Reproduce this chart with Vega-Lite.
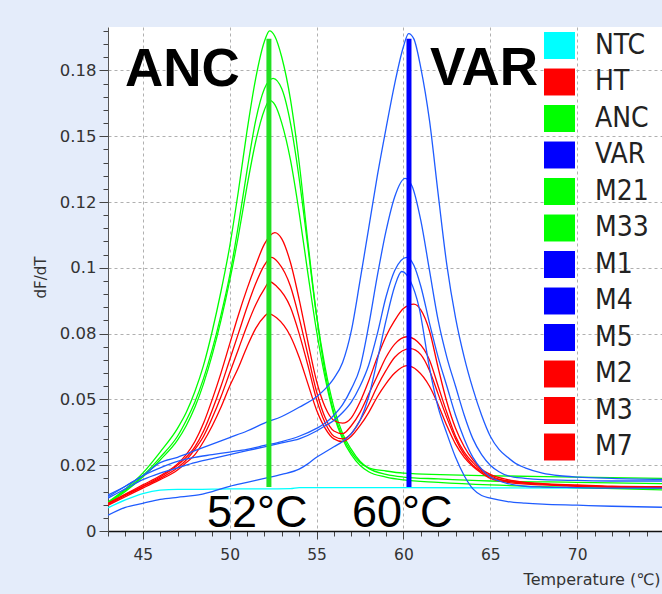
{
"$schema":"https://vega.github.io/schema/vega-lite/v6.json",
"width":554,"height":504,
"autosize":{"type":"none"},
"padding":{"left":108,"top":27,"right":0,"bottom":63},
"background":"#e4ecfa",
"config":{"view":{"fill":"white","stroke":null},
"legend":{"padding":0}},
"encoding":{
"x":{"field":"t","type":"quantitative","title":"Temperature (℃)",
 "scale":{"domain":[43,74.88],"nice":false,"zero":false},
 "axis":{"values":[43,44,45,46,47,48,49,50,51,52,53,54,55,56,57,58,59,60,61,62,63,64,65,66,67,68,69,70,71,72,73,74],
  "labelExpr":"datum.value % 5 == 0 ? datum.label : ''",
  "tickSize":{"condition":{"test":"datum.value % 5 == 0","value":8},"value":5},
  "gridOpacity":{"condition":{"test":"datum.value % 5 == 0","value":1},"value":0},
  "grid":true,"gridColor":"#b0b0b0","gridDash":[3,3],"gridWidth":1,
  "tickColor":"#444","domainColor":"#111","domainWidth":1.5,
  "labelFont":"DejaVu Sans","labelFontSize":15.5,"labelColor":"#333","labelPadding":8,
  "titleFont":"DejaVu Sans","titleFontSize":16,"titleFontWeight":"normal","titleColor":"#333",
  "titleX":552,"titleY":53,"titleAlign":"right","titleBaseline":"alphabetic"}},
"y":{"field":"v","type":"quantitative","title":"dF/dT",
 "scale":{"domain":[0,0.1915],"nice":false,"zero":false},
 "axis":{"values":[0,0.005,0.01,0.015,0.02,0.025,0.03,0.035,0.04,0.045,0.05,0.055,0.06,0.065,0.07,0.075,0.08,0.085,0.09,0.095,0.1,0.105,0.11,0.115,0.12,0.125,0.13,0.135,0.14,0.145,0.15,0.155,0.16,0.165,0.17,0.175,0.18,0.185,0.19],
  "labelExpr":"abs(datum.value*40 - round(datum.value*40)) < 0.01 ? ['0','0.02','0.05','0.08','0.1','0.12','0.15','0.18'][round(datum.value*40)] : ''",
  "tickSize":{"condition":{"test":"abs(datum.value*40 - round(datum.value*40)) < 0.01","value":9},"value":5},
  "gridOpacity":{"condition":{"test":"abs(datum.value*40 - round(datum.value*40)) < 0.01 && datum.value > 0","value":1},"value":0},
  "grid":true,"gridColor":"#b0b0b0","gridDash":[3,3],"gridWidth":1,
  "tickColor":"#444","domainColor":"#555","domainWidth":1,
  "labelFont":"DejaVu Sans","labelFontSize":16.5,"labelColor":"#333","labelPadding":3,
  "titleFont":"DejaVu Sans","titleFontSize":15,"titleFontWeight":"normal","titleColor":"#333",
  "titleX":-60,"titleY":250,"titleAlign":"center","titleBaseline":"bottom","titleAngle":-90}}
},
"layer":[
{"data":{"values":[
{"s":"NTC","t":43,"v":0.0088},{"s":"NTC","t":44,"v":0.0118},{"s":"NTC","t":45,"v":0.0142},{"s":"NTC","t":46,"v":0.0155},{"s":"NTC","t":47,"v":0.0158},{"s":"NTC","t":48,"v":0.0158},{"s":"NTC","t":50,"v":0.016},{"s":"NTC","t":52,"v":0.016},{"s":"NTC","t":53.5,"v":0.0161},{"s":"NTC","t":54,"v":0.0165},{"s":"NTC","t":56,"v":0.0165},{"s":"NTC","t":60,"v":0.0165},{"s":"NTC","t":65,"v":0.0164},{"s":"NTC","t":70,"v":0.0163},{"s":"NTC","t":75,"v":0.0162},

{"s":"ANC","t":43,"v":0.011},{"s":"ANC","t":44,"v":0.016},{"s":"ANC","t":45,"v":0.022},{"s":"ANC","t":46,"v":0.03},{"s":"ANC","t":47,"v":0.039},{"s":"ANC","t":47.5,"v":0.045},{"s":"ANC","t":48,"v":0.053},{"s":"ANC","t":48.5,"v":0.063},{"s":"ANC","t":49,"v":0.076},{"s":"ANC","t":49.5,"v":0.091},{"s":"ANC","t":50,"v":0.108},{"s":"ANC","t":50.5,"v":0.129},{"s":"ANC","t":51,"v":0.152},{"s":"ANC","t":51.5,"v":0.172},{"s":"ANC","t":52,"v":0.186},{"s":"ANC","t":52.3,"v":0.19},{"s":"ANC","t":52.6,"v":0.188},{"s":"ANC","t":53,"v":0.18},{"s":"ANC","t":53.5,"v":0.164},{"s":"ANC","t":54,"v":0.14},{"s":"ANC","t":54.5,"v":0.11},{"s":"ANC","t":55,"v":0.082},{"s":"ANC","t":55.5,"v":0.06},{"s":"ANC","t":56,"v":0.045},{"s":"ANC","t":56.5,"v":0.036},{"s":"ANC","t":57,"v":0.03},{"s":"ANC","t":57.5,"v":0.026},{"s":"ANC","t":58,"v":0.024},{"s":"ANC","t":59,"v":0.0228},{"s":"ANC","t":60,"v":0.022},{"s":"ANC","t":65,"v":0.021},{"s":"ANC","t":70,"v":0.0205},{"s":"ANC","t":75,"v":0.02},

{"s":"M21","t":43,"v":0.0108},{"s":"M21","t":44,"v":0.0155},{"s":"M21","t":45,"v":0.021},{"s":"M21","t":46,"v":0.028},{"s":"M21","t":47,"v":0.036},{"s":"M21","t":47.5,"v":0.042},{"s":"M21","t":48,"v":0.049},{"s":"M21","t":48.5,"v":0.058},{"s":"M21","t":49,"v":0.069},{"s":"M21","t":49.5,"v":0.082},{"s":"M21","t":50,"v":0.097},{"s":"M21","t":50.5,"v":0.116},{"s":"M21","t":51,"v":0.137},{"s":"M21","t":51.5,"v":0.156},{"s":"M21","t":52,"v":0.168},{"s":"M21","t":52.5,"v":0.172},{"s":"M21","t":53,"v":0.168},{"s":"M21","t":53.5,"v":0.155},{"s":"M21","t":54,"v":0.134},{"s":"M21","t":54.5,"v":0.108},{"s":"M21","t":55,"v":0.082},{"s":"M21","t":55.5,"v":0.062},{"s":"M21","t":56,"v":0.047},{"s":"M21","t":56.5,"v":0.037},{"s":"M21","t":57,"v":0.031},{"s":"M21","t":57.5,"v":0.0265},{"s":"M21","t":58,"v":0.0238},{"s":"M21","t":59,"v":0.0215},{"s":"M21","t":60,"v":0.0205},{"s":"M21","t":62,"v":0.0198},{"s":"M21","t":65,"v":0.019},{"s":"M21","t":70,"v":0.0185},{"s":"M21","t":75,"v":0.018},

{"s":"M33","t":43,"v":0.0105},{"s":"M33","t":44,"v":0.015},{"s":"M33","t":45,"v":0.0205},{"s":"M33","t":46,"v":0.027},{"s":"M33","t":47,"v":0.0345},{"s":"M33","t":47.5,"v":0.04},{"s":"M33","t":48,"v":0.047},{"s":"M33","t":48.5,"v":0.056},{"s":"M33","t":49,"v":0.067},{"s":"M33","t":49.5,"v":0.08},{"s":"M33","t":50,"v":0.095},{"s":"M33","t":50.5,"v":0.112},{"s":"M33","t":51,"v":0.131},{"s":"M33","t":51.5,"v":0.148},{"s":"M33","t":52,"v":0.16},{"s":"M33","t":52.3,"v":0.1636},{"s":"M33","t":52.6,"v":0.162},{"s":"M33","t":53,"v":0.155},{"s":"M33","t":53.5,"v":0.141},{"s":"M33","t":54,"v":0.121},{"s":"M33","t":54.5,"v":0.098},{"s":"M33","t":55,"v":0.076},{"s":"M33","t":55.5,"v":0.058},{"s":"M33","t":56,"v":0.044},{"s":"M33","t":56.5,"v":0.035},{"s":"M33","t":57,"v":0.029},{"s":"M33","t":57.5,"v":0.025},{"s":"M33","t":58,"v":0.0225},{"s":"M33","t":59,"v":0.0205},{"s":"M33","t":60,"v":0.0194},{"s":"M33","t":62,"v":0.0185},{"s":"M33","t":65,"v":0.0175},{"s":"M33","t":70,"v":0.0165},{"s":"M33","t":75,"v":0.0156},

{"s":"HT","t":43,"v":0.0105},{"s":"HT","t":44,"v":0.014},{"s":"HT","t":45,"v":0.0175},{"s":"HT","t":46,"v":0.021},{"s":"HT","t":47,"v":0.0255},{"s":"HT","t":47.5,"v":0.029},{"s":"HT","t":48,"v":0.034},{"s":"HT","t":48.5,"v":0.041},{"s":"HT","t":49,"v":0.05},{"s":"HT","t":49.5,"v":0.06},{"s":"HT","t":50,"v":0.071},{"s":"HT","t":50.5,"v":0.082},{"s":"HT","t":51,"v":0.092},{"s":"HT","t":51.5,"v":0.101},{"s":"HT","t":52,"v":0.109},{"s":"HT","t":52.6,"v":0.1134},{"s":"HT","t":53,"v":0.111},{"s":"HT","t":53.5,"v":0.102},{"s":"HT","t":54,"v":0.088},{"s":"HT","t":54.5,"v":0.072},{"s":"HT","t":55,"v":0.057},{"s":"HT","t":55.5,"v":0.047},{"s":"HT","t":56,"v":0.042},{"s":"HT","t":56.5,"v":0.041},{"s":"HT","t":57,"v":0.043},{"s":"HT","t":57.5,"v":0.049},{"s":"HT","t":58,"v":0.057},{"s":"HT","t":58.5,"v":0.066},{"s":"HT","t":59,"v":0.074},{"s":"HT","t":59.5,"v":0.08},{"s":"HT","t":60,"v":0.0845},{"s":"HT","t":60.6,"v":0.0862},{"s":"HT","t":61,"v":0.084},{"s":"HT","t":61.5,"v":0.076},{"s":"HT","t":62,"v":0.062},{"s":"HT","t":62.5,"v":0.049},{"s":"HT","t":63,"v":0.039},{"s":"HT","t":63.5,"v":0.032},{"s":"HT","t":64,"v":0.027},{"s":"HT","t":64.5,"v":0.0235},{"s":"HT","t":65,"v":0.0215},{"s":"HT","t":66,"v":0.0195},{"s":"HT","t":67,"v":0.0185},{"s":"HT","t":68,"v":0.018},{"s":"HT","t":70,"v":0.0175},{"s":"HT","t":72,"v":0.017},{"s":"HT","t":75,"v":0.0168},

{"s":"M2","t":43,"v":0.0105},{"s":"M2","t":44,"v":0.0138},{"s":"M2","t":45,"v":0.017},{"s":"M2","t":46,"v":0.0205},{"s":"M2","t":47,"v":0.025},{"s":"M2","t":47.5,"v":0.028},{"s":"M2","t":48,"v":0.032},{"s":"M2","t":48.5,"v":0.038},{"s":"M2","t":49,"v":0.046},{"s":"M2","t":49.5,"v":0.055},{"s":"M2","t":50,"v":0.065},{"s":"M2","t":50.5,"v":0.075},{"s":"M2","t":51,"v":0.085},{"s":"M2","t":51.5,"v":0.094},{"s":"M2","t":52,"v":0.101},{"s":"M2","t":52.4,"v":0.104},{"s":"M2","t":52.8,"v":0.102},{"s":"M2","t":53.5,"v":0.093},{"s":"M2","t":54,"v":0.081},{"s":"M2","t":54.5,"v":0.067},{"s":"M2","t":55,"v":0.053},{"s":"M2","t":55.5,"v":0.043},{"s":"M2","t":56,"v":0.038},{"s":"M2","t":56.5,"v":0.037},{"s":"M2","t":57,"v":0.04},{"s":"M2","t":57.5,"v":0.045},{"s":"M2","t":58,"v":0.052},{"s":"M2","t":58.5,"v":0.059},{"s":"M2","t":59,"v":0.066},{"s":"M2","t":59.5,"v":0.071},{"s":"M2","t":60.2,"v":0.0738},{"s":"M2","t":60.8,"v":0.072},{"s":"M2","t":61.5,"v":0.065},{"s":"M2","t":62,"v":0.055},{"s":"M2","t":62.5,"v":0.045},{"s":"M2","t":63,"v":0.036},{"s":"M2","t":63.5,"v":0.03},{"s":"M2","t":64,"v":0.026},{"s":"M2","t":64.5,"v":0.023},{"s":"M2","t":65,"v":0.021},{"s":"M2","t":66,"v":0.019},{"s":"M2","t":68,"v":0.0178},{"s":"M2","t":70,"v":0.0172},{"s":"M2","t":72,"v":0.0168},{"s":"M2","t":75,"v":0.0165},

{"s":"M3","t":43,"v":0.01},{"s":"M3","t":44,"v":0.0135},{"s":"M3","t":45,"v":0.0168},{"s":"M3","t":46,"v":0.02},{"s":"M3","t":47,"v":0.024},{"s":"M3","t":47.5,"v":0.027},{"s":"M3","t":48,"v":0.031},{"s":"M3","t":48.5,"v":0.036},{"s":"M3","t":49,"v":0.043},{"s":"M3","t":49.5,"v":0.051},{"s":"M3","t":50,"v":0.06},{"s":"M3","t":50.5,"v":0.069},{"s":"M3","t":51,"v":0.078},{"s":"M3","t":51.5,"v":0.086},{"s":"M3","t":52,"v":0.092},{"s":"M3","t":52.3,"v":0.0947},{"s":"M3","t":52.7,"v":0.093},{"s":"M3","t":53.5,"v":0.085},{"s":"M3","t":54,"v":0.075},{"s":"M3","t":54.5,"v":0.063},{"s":"M3","t":55,"v":0.05},{"s":"M3","t":55.5,"v":0.041},{"s":"M3","t":56,"v":0.036},{"s":"M3","t":56.5,"v":0.035},{"s":"M3","t":57,"v":0.037},{"s":"M3","t":57.5,"v":0.042},{"s":"M3","t":58,"v":0.048},{"s":"M3","t":58.5,"v":0.055},{"s":"M3","t":59,"v":0.061},{"s":"M3","t":59.5,"v":0.066},{"s":"M3","t":60.4,"v":0.0693},{"s":"M3","t":61,"v":0.067},{"s":"M3","t":61.5,"v":0.061},{"s":"M3","t":62,"v":0.052},{"s":"M3","t":62.5,"v":0.043},{"s":"M3","t":63,"v":0.035},{"s":"M3","t":63.5,"v":0.029},{"s":"M3","t":64,"v":0.025},{"s":"M3","t":64.5,"v":0.0225},{"s":"M3","t":65,"v":0.0205},{"s":"M3","t":66,"v":0.019},{"s":"M3","t":68,"v":0.0178},{"s":"M3","t":70,"v":0.0172},{"s":"M3","t":72,"v":0.0168},{"s":"M3","t":75,"v":0.0165},

{"s":"M7","t":43,"v":0.0098},{"s":"M7","t":44,"v":0.013},{"s":"M7","t":45,"v":0.0163},{"s":"M7","t":46,"v":0.0195},{"s":"M7","t":47,"v":0.0232},{"s":"M7","t":47.5,"v":0.026},{"s":"M7","t":48,"v":0.029},{"s":"M7","t":48.5,"v":0.034},{"s":"M7","t":49,"v":0.04},{"s":"M7","t":49.5,"v":0.047},{"s":"M7","t":50,"v":0.055},{"s":"M7","t":50.5,"v":0.062},{"s":"M7","t":51,"v":0.07},{"s":"M7","t":51.5,"v":0.077},{"s":"M7","t":52,"v":0.0815},{"s":"M7","t":52.2,"v":0.0826},{"s":"M7","t":52.7,"v":0.081},{"s":"M7","t":53.5,"v":0.074},{"s":"M7","t":54,"v":0.066},{"s":"M7","t":54.5,"v":0.056},{"s":"M7","t":55,"v":0.046},{"s":"M7","t":55.5,"v":0.039},{"s":"M7","t":56,"v":0.035},{"s":"M7","t":56.5,"v":0.034},{"s":"M7","t":57,"v":0.036},{"s":"M7","t":57.5,"v":0.04},{"s":"M7","t":58,"v":0.045},{"s":"M7","t":58.5,"v":0.051},{"s":"M7","t":59,"v":0.056},{"s":"M7","t":59.5,"v":0.06},{"s":"M7","t":60.2,"v":0.0628},{"s":"M7","t":60.8,"v":0.061},{"s":"M7","t":61.5,"v":0.055},{"s":"M7","t":62,"v":0.048},{"s":"M7","t":62.5,"v":0.04},{"s":"M7","t":63,"v":0.033},{"s":"M7","t":63.5,"v":0.028},{"s":"M7","t":64,"v":0.0245},{"s":"M7","t":64.5,"v":0.022},{"s":"M7","t":65,"v":0.02},{"s":"M7","t":66,"v":0.0185},{"s":"M7","t":68,"v":0.0175},{"s":"M7","t":70,"v":0.017},{"s":"M7","t":72,"v":0.0167},{"s":"M7","t":75,"v":0.0165},

{"s":"VAR","t":43,"v":0.0137},{"s":"VAR","t":44,"v":0.017},{"s":"VAR","t":45,"v":0.021},{"s":"VAR","t":46,"v":0.026},{"s":"VAR","t":47,"v":0.028},{"s":"VAR","t":48,"v":0.0305},{"s":"VAR","t":49,"v":0.033},{"s":"VAR","t":50,"v":0.0355},{"s":"VAR","t":51,"v":0.038},{"s":"VAR","t":52,"v":0.041},{"s":"VAR","t":53,"v":0.0435},{"s":"VAR","t":54,"v":0.047},{"s":"VAR","t":55,"v":0.051},{"s":"VAR","t":55.5,"v":0.054},{"s":"VAR","t":56,"v":0.058},{"s":"VAR","t":56.5,"v":0.064},{"s":"VAR","t":57,"v":0.076},{"s":"VAR","t":57.5,"v":0.095},{"s":"VAR","t":58,"v":0.115},{"s":"VAR","t":58.5,"v":0.135},{"s":"VAR","t":59,"v":0.153},{"s":"VAR","t":59.5,"v":0.17},{"s":"VAR","t":60,"v":0.184},{"s":"VAR","t":60.3,"v":0.189},{"s":"VAR","t":60.6,"v":0.187},{"s":"VAR","t":61,"v":0.176},{"s":"VAR","t":61.5,"v":0.156},{"s":"VAR","t":62,"v":0.128},{"s":"VAR","t":62.5,"v":0.101},{"s":"VAR","t":63,"v":0.081},{"s":"VAR","t":63.5,"v":0.066},{"s":"VAR","t":64,"v":0.054},{"s":"VAR","t":64.5,"v":0.044},{"s":"VAR","t":65,"v":0.036},{"s":"VAR","t":65.5,"v":0.031},{"s":"VAR","t":66,"v":0.028},{"s":"VAR","t":66.5,"v":0.0255},{"s":"VAR","t":67,"v":0.024},{"s":"VAR","t":68,"v":0.022},{"s":"VAR","t":69,"v":0.021},{"s":"VAR","t":70,"v":0.0205},{"s":"VAR","t":72,"v":0.02},{"s":"VAR","t":75,"v":0.0196},

{"s":"M1","t":43,"v":0.013},{"s":"M1","t":44,"v":0.017},{"s":"M1","t":45,"v":0.021},{"s":"M1","t":46,"v":0.024},{"s":"M1","t":47,"v":0.0265},{"s":"M1","t":48,"v":0.028},{"s":"M1","t":49,"v":0.029},{"s":"M1","t":50,"v":0.03},{"s":"M1","t":51,"v":0.031},{"s":"M1","t":52,"v":0.0325},{"s":"M1","t":53,"v":0.034},{"s":"M1","t":54,"v":0.036},{"s":"M1","t":55,"v":0.039},{"s":"M1","t":55.5,"v":0.041},{"s":"M1","t":56,"v":0.044},{"s":"M1","t":56.5,"v":0.048},{"s":"M1","t":57,"v":0.054},{"s":"M1","t":57.5,"v":0.062},{"s":"M1","t":58,"v":0.078},{"s":"M1","t":58.5,"v":0.097},{"s":"M1","t":59,"v":0.114},{"s":"M1","t":59.5,"v":0.127},{"s":"M1","t":60.1,"v":0.134},{"s":"M1","t":60.5,"v":0.131},{"s":"M1","t":61,"v":0.118},{"s":"M1","t":61.5,"v":0.099},{"s":"M1","t":62,"v":0.08},{"s":"M1","t":62.5,"v":0.066},{"s":"M1","t":63,"v":0.055},{"s":"M1","t":63.5,"v":0.044},{"s":"M1","t":64,"v":0.035},{"s":"M1","t":64.5,"v":0.029},{"s":"M1","t":65,"v":0.025},{"s":"M1","t":65.5,"v":0.0225},{"s":"M1","t":66,"v":0.021},{"s":"M1","t":67,"v":0.02},{"s":"M1","t":68,"v":0.0195},{"s":"M1","t":70,"v":0.0192},{"s":"M1","t":72,"v":0.019},{"s":"M1","t":75,"v":0.019},

{"s":"M4","t":43,"v":0.0125},{"s":"M4","t":44,"v":0.016},{"s":"M4","t":45,"v":0.0195},{"s":"M4","t":46,"v":0.022},{"s":"M4","t":47,"v":0.024},{"s":"M4","t":48,"v":0.026},{"s":"M4","t":49,"v":0.0275},{"s":"M4","t":50,"v":0.029},{"s":"M4","t":51,"v":0.0305},{"s":"M4","t":52,"v":0.032},{"s":"M4","t":53,"v":0.0335},{"s":"M4","t":54,"v":0.035},{"s":"M4","t":55,"v":0.038},{"s":"M4","t":55.5,"v":0.04},{"s":"M4","t":56,"v":0.042},{"s":"M4","t":56.5,"v":0.045},{"s":"M4","t":57,"v":0.049},{"s":"M4","t":57.5,"v":0.055},{"s":"M4","t":58,"v":0.063},{"s":"M4","t":58.5,"v":0.075},{"s":"M4","t":59,"v":0.089},{"s":"M4","t":59.5,"v":0.099},{"s":"M4","t":60.2,"v":0.104},{"s":"M4","t":60.6,"v":0.101},{"s":"M4","t":61,"v":0.093},{"s":"M4","t":61.5,"v":0.079},{"s":"M4","t":62,"v":0.066},{"s":"M4","t":62.5,"v":0.055},{"s":"M4","t":63,"v":0.044},{"s":"M4","t":63.5,"v":0.035},{"s":"M4","t":64,"v":0.028},{"s":"M4","t":64.5,"v":0.0235},{"s":"M4","t":65,"v":0.0205},{"s":"M4","t":65.5,"v":0.019},{"s":"M4","t":66,"v":0.018},{"s":"M4","t":67,"v":0.017},{"s":"M4","t":68,"v":0.0167},{"s":"M4","t":70,"v":0.0165},{"s":"M4","t":72,"v":0.0163},{"s":"M4","t":75,"v":0.0163},

{"s":"M5","t":43,"v":0.006},{"s":"M5","t":44,"v":0.009},{"s":"M5","t":45,"v":0.0105},{"s":"M5","t":46,"v":0.012},{"s":"M5","t":47,"v":0.0128},{"s":"M5","t":48,"v":0.0135},{"s":"M5","t":49,"v":0.015},{"s":"M5","t":50,"v":0.017},{"s":"M5","t":51,"v":0.0185},{"s":"M5","t":52,"v":0.02},{"s":"M5","t":53,"v":0.0215},{"s":"M5","t":54,"v":0.0235},{"s":"M5","t":54.5,"v":0.0255},{"s":"M5","t":55,"v":0.028},{"s":"M5","t":55.5,"v":0.03},{"s":"M5","t":56,"v":0.032},{"s":"M5","t":56.5,"v":0.034},{"s":"M5","t":57,"v":0.037},{"s":"M5","t":57.5,"v":0.042},{"s":"M5","t":58,"v":0.051},{"s":"M5","t":58.5,"v":0.065},{"s":"M5","t":59,"v":0.08},{"s":"M5","t":59.5,"v":0.093},{"s":"M5","t":59.9,"v":0.0986},{"s":"M5","t":60.4,"v":0.095},{"s":"M5","t":60.9,"v":0.085},{"s":"M5","t":61.5,"v":0.062},{"s":"M5","t":62,"v":0.047},{"s":"M5","t":62.5,"v":0.037},{"s":"M5","t":63,"v":0.028},{"s":"M5","t":63.5,"v":0.021},{"s":"M5","t":64,"v":0.016},{"s":"M5","t":64.5,"v":0.0135},{"s":"M5","t":65,"v":0.0125},{"s":"M5","t":66,"v":0.0112},{"s":"M5","t":67,"v":0.0106},{"s":"M5","t":68,"v":0.0102},{"s":"M5","t":70,"v":0.0098},{"s":"M5","t":72,"v":0.0094},{"s":"M5","t":75,"v":0.009}
]},
"mark":{"type":"line","strokeWidth":1.3,"interpolate":"monotone","clip":true},
"encoding":{
 "color":{"field":"s","type":"nominal",
  "scale":{"domain":["NTC","HT","ANC","VAR","M21","M33","M1","M4","M5","M2","M3","M7"],
   "range":["#00ffff","#ff0000","#00ff00","#1f5cff","#00ff00","#00ff00","#1f5cff","#1f5cff","#1f5cff","#ff0000","#ff0000","#ff0000"]},
  "legend":{"orient":"none","legendX":436,"legendY":3,"title":null,
   "symbolType":"M-1,-0.87H1V0.87H-1Z","symbolSize":961,"symbolStrokeWidth":0,
   "labelFont":"DejaVu Sans Condensed, Liberation Sans Narrow, DejaVu Sans","labelFontSize":28,"labelColor":"#222","labelOffset":20,"rowPadding":6.5,
   "encode":{"symbols":{"update":{"fill":{"signal":"indexof(['VAR','M1','M4','M5'], datum.value) >= 0 ? '#0000ff' : scale('color', datum.value)"},"fillOpacity":{"value":1},"stroke":{"value":"transparent"},"opacity":{"value":1}}}}}},
 "detail":{"field":"s"}
}},
{"data":{"values":[{"t":52.26,"v":0.0167,"v2":0.187}]},
 "mark":{"type":"rule","color":"#22e022","strokeWidth":5},
 "encoding":{"y2":{"field":"v2"}}},
{"data":{"values":[{"t":60.32,"v":0.0167,"v2":0.187}]},
 "mark":{"type":"rule","color":"#0000ff","strokeWidth":5},
 "encoding":{"y2":{"field":"v2"}}},
{"data":{"values":[{"label":"ANC","t":43.98,"v":0.169},{"label":"VAR","t":61.53,"v":0.1693}]},
 "mark":{"type":"text","align":"left","baseline":"alphabetic","font":"Liberation Sans","fontSize":53,"fontWeight":"bold","color":"#000"},
 "encoding":{"text":{"field":"label"}}},
{"data":{"values":[{"label":"52°C","t":48.7,"v":0.0015},{"label":"60°C","t":57.04,"v":0.0015}]},
 "mark":{"type":"text","align":"left","baseline":"alphabetic","font":"Liberation Sans","fontSize":45,"color":"#000"},
 "encoding":{"text":{"field":"label"}}}
]
}
